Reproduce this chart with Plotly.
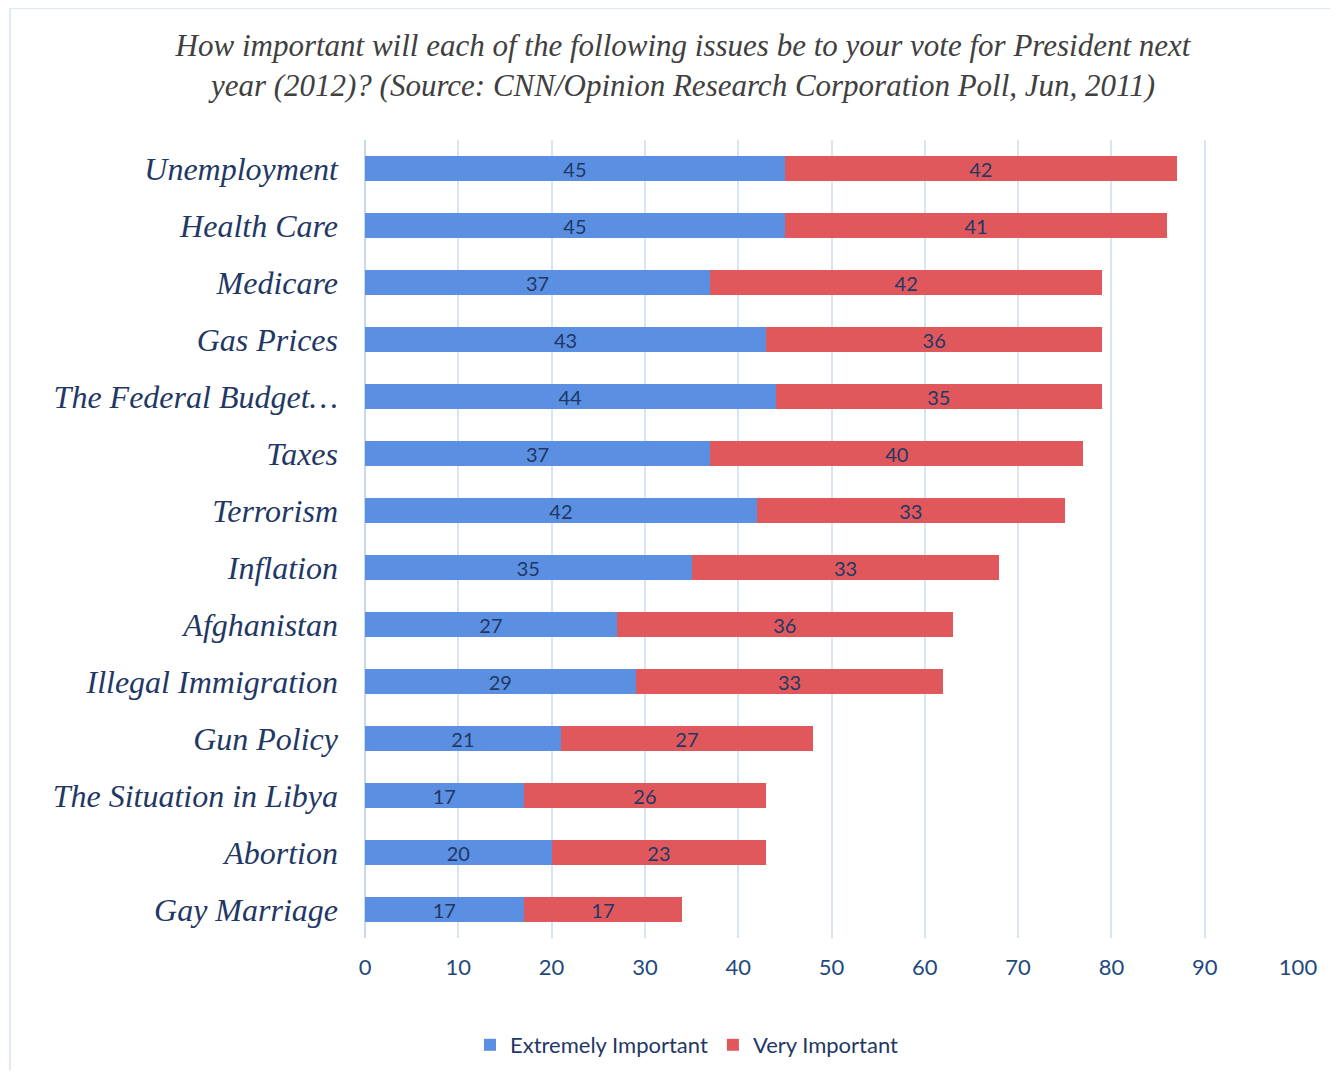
import plotly.graph_objects as go

categories = ["Unemployment", "Health Care", "Medicare", "Gas Prices", "The Federal Budget…",
              "Taxes", "Terrorism", "Inflation", "Afghanistan", "Illegal Immigration",
              "Gun Policy", "The Situation in Libya", "Abortion", "Gay Marriage"]
extremely = [45, 45, 37, 43, 44, 37, 42, 35, 27, 29, 21, 17, 20, 17]
very = [42, 41, 42, 36, 35, 40, 33, 33, 36, 33, 27, 26, 23, 17]
x_ticks = [0, 10, 20, 30, 40, 50, 60, 70, 80, 90, 100]

OFF = 8  # page body margin
W, H = 1322, 1062
L, R, T, B = 357, 32, 132, 132

label_font = dict(family="Lato, Open Sans, sans-serif", size=20, color="#1f3864")

fig = go.Figure()
fig.add_trace(go.Bar(
    y=categories, x=extremely, orientation="h", name="Extremely Important",
    marker=dict(color="#5b8fe1", line=dict(width=0)),
    text=extremely, textposition="inside", insidetextanchor="middle", textangle=0,
    constraintext="none", textfont=label_font, width=0.45,
))
fig.add_trace(go.Bar(
    y=categories, x=very, orientation="h", name="Very Important",
    marker=dict(color="#e0585c", line=dict(width=0)),
    text=very, textposition="inside", insidetextanchor="middle", textangle=0,
    constraintext="none", textfont=label_font, width=0.45,
))

pw = W - L - R
ph = H - T - B
def px2x(px):
    return (px - OFF - L) / pw
def py2y(py):
    return (H - B - (py - OFF)) / ph

fig.add_shape(type="rect", xref="paper", yref="paper",
              x0=px2x(10), x1=px2x(1345), y0=py2y(1085), y1=py2y(8),
              line=dict(color="#d5e2f2", width=1.5), fillcolor="rgba(0,0,0,0)", layer="below")

fig.update_layout(
    width=W, height=H,
    margin=dict(l=L, r=R, t=T, b=B),
    barmode="stack",
    paper_bgcolor="white", plot_bgcolor="white",
    title=dict(
        text="How important will each of the following issues be to your vote for President next<br>year (2012)? (Source: CNN/Opinion Research Corporation Poll, Jun, 2011)",
        x=(683 - OFF) / W, xanchor="center", y=1 - (56 - OFF) / H, yanchor="middle",
        font=dict(family="Liberation Serif, Times New Roman, serif", size=31, color="#404040", style="italic"),
    ),
    xaxis=dict(
        range=[0, 100], tickvals=x_ticks, ticktext=[str(v) for v in x_ticks],
        showgrid=True, gridcolor="#d9e5f4", gridwidth=1.5,
        zeroline=True, zerolinecolor="#c6d9f0", zerolinewidth=1.5,
        showline=False, ticks="",
        tickfont=dict(family="Lato, Open Sans, sans-serif", size=22, color="#1f497d"),
        ticklabelstandoff=14,
    ),
    yaxis=dict(
        categoryorder="array", categoryarray=categories[::-1],
        showgrid=False, ticks="", showline=False,
        tickfont=dict(family="Liberation Serif, Times New Roman, serif", size=32, color="#1f3864", style="italic"),
        ticklabelstandoff=26,
    ),
    legend=dict(
        orientation="h", xref="container", x=(687 - OFF) / W, xanchor="center",
        yref="container", y=1 - (1045 - OFF) / H, yanchor="middle",
        font=dict(family="Lato, Open Sans, sans-serif", size=22, color="#1f3864"),
        traceorder="normal", itemwidth=30,
    ),
    showlegend=True,
)

fig.write_html("out.html")
